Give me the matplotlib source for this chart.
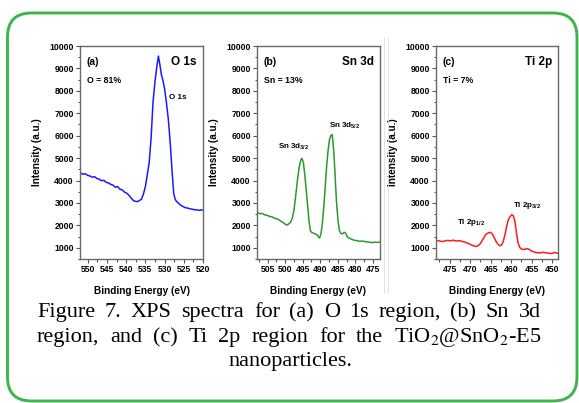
import matplotlib
matplotlib.use('Agg')
import matplotlib.pyplot as plt
from matplotlib.patches import FancyBboxPatch
from matplotlib.lines import Line2D
from matplotlib.transforms import IdentityTransform
from matplotlib.ticker import MultipleLocator

# O 1s spectrum (binding energy in eV, intensity in a.u.)
o_be = [551.8, 551.2, 550.6, 550.0, 549.4, 548.8, 548.2, 547.6, 547.0, 546.4,
        545.8, 545.2, 544.6, 544.0, 543.4, 542.8, 542.2, 541.6, 541.0, 540.4,
        539.8, 539.2, 538.6, 538.0, 537.5, 537.0, 536.5, 536.0, 535.5, 535.0,
        534.5, 534.0, 533.5, 533.0, 532.5, 532.0, 531.6, 531.2, 530.8, 530.4,
        530.0, 529.5, 529.0, 528.5, 528.0, 527.6, 527.2, 526.8, 526.3, 525.8,
        525.2, 524.6, 524.0, 523.4, 522.8, 522.2, 521.6, 521.0, 520.4, 520.0]
o_int = [4330, 4280, 4300, 4230, 4200, 4150, 4170, 4090, 4060, 3990,
         4010, 3920, 3890, 3830, 3790, 3700, 3730, 3610, 3580, 3480,
         3430, 3330, 3200, 3090, 3070, 3060, 3110, 3170, 3400, 3720,
         4250, 4800, 5900, 7500, 8400, 9100, 9550, 9150, 8700, 8450,
         8100, 7450, 6700, 5600, 4300, 3400, 3150, 3050, 2980, 2900,
         2840, 2790, 2770, 2740, 2720, 2700, 2690, 2670, 2690, 2680]

# Sn 3d spectrum
sn_be = [507.9, 507.2, 506.5, 505.8, 505.1, 504.4, 503.7, 503.0, 502.3, 501.6,
         501.0, 500.5, 500.0, 499.5, 499.0, 498.5, 498.0, 497.5, 497.0, 496.5,
         496.0, 495.5, 495.2, 494.8, 494.4, 494.0, 493.6, 493.2, 492.8, 492.4,
         492.0, 491.5, 491.0, 490.5, 490.2, 489.8, 489.4, 489.0, 488.6, 488.2,
         487.8, 487.4, 487.0, 486.6, 486.2, 485.8, 485.4, 485.0, 484.6, 484.2,
         483.7, 483.2, 482.8, 482.3, 481.6, 480.9, 480.2, 479.5, 478.8, 478.1,
         477.4, 476.7, 476.0, 475.3, 474.6, 473.9, 473.2]
sn_int = [2570, 2520, 2530, 2470, 2450, 2400, 2380, 2320, 2290, 2230,
          2170, 2120, 2060, 2010, 2060, 2130, 2300, 2650, 3300, 4000,
          4600, 4930, 4990, 4800, 4250, 3600, 2900, 2200, 1760, 1680,
          1660, 1620, 1590, 1480, 1440, 1620, 2100, 2800, 3700, 4600,
          5300, 5800, 6000, 6050, 5400, 4300, 3100, 2300, 1800, 1650,
          1620, 1690, 1660, 1480, 1420, 1370, 1330, 1320, 1290, 1300,
          1280, 1260, 1250, 1230, 1250, 1240, 1250]

# Ti 2p spectrum
ti_be = [478.3, 477.6, 476.9, 476.2, 475.5, 474.8, 474.1, 473.4, 472.7, 472.0,
         471.4, 470.8, 470.2, 469.6, 469.0, 468.5, 468.0, 467.5, 467.0, 466.5,
         466.0, 465.5, 465.1, 464.7, 464.2, 463.7, 463.2, 462.7, 462.3, 461.9,
         461.5, 461.1, 460.7, 460.3, 459.9, 459.5, 459.1, 458.7, 458.3, 457.9,
         457.4, 456.9, 456.3, 455.7, 455.1, 454.4, 453.7, 453.0, 452.3, 451.6,
         450.9, 450.2, 449.5, 448.7]
ti_int = [1330, 1310, 1280, 1300, 1330, 1310, 1340, 1300, 1320, 1290,
          1260, 1220, 1170, 1120, 1080, 1060, 1100, 1190, 1340, 1500,
          1620, 1670, 1690, 1640, 1480, 1290, 1150, 1090, 1130, 1300,
          1600, 1950, 2250, 2380, 2470, 2440, 2200, 1650, 1200, 1010,
          940, 920, 960, 940, 860, 810, 780, 770, 800, 780,
          760, 740, 790, 760]

W, H = 579, 403
plt.rcParams['font.family'] = 'Liberation Sans'
plt.rcParams['mathtext.fontset'] = 'custom'
plt.rcParams['mathtext.rm'] = 'Liberation Sans:bold'
plt.rcParams['mathtext.bf'] = 'Liberation Sans:bold'
plt.rcParams['mathtext.default'] = 'rm'
fig = plt.figure(figsize=(W / 100, H / 100), dpi=100)

panels = [
    dict(rect=[80, 203], be=o_be, y=o_int, color='#1a1aff', xlim=(552, 520),
         tag='(a)', title='O 1s', frac='O = 81%'),
    dict(rect=[257, 380], be=sn_be, y=sn_int, color='#2a9a2a', xlim=(508, 473),
         tag='(b)', title='Sn 3d', frac='Sn = 13%'),
    dict(rect=[436, 558], be=ti_be, y=ti_int, color='#ff1a1a', xlim=(478.3, 448.6),
         tag='(c)', title='Ti 2p', frac='Ti = 7%'),
]

top, bottom = 46, 259
axes = []
for p in panels:
    l, r = p['rect']
    ax = fig.add_axes([l / W, (H - bottom) / H, (r - l) / W, (bottom - top) / H])
    ax.plot(p['be'], p['y'], color=p['color'], lw=1.1)
    ax.set_xlim(*p['xlim'])
    ax.set_ylim(500, 10000)
    ax.xaxis.set_major_locator(MultipleLocator(5))
    ax.xaxis.set_minor_locator(MultipleLocator(2.5))
    ax.yaxis.set_major_locator(MultipleLocator(1000))
    ax.yaxis.set_minor_locator(MultipleLocator(500))
    ax.set_yticks(range(1000, 10001, 1000))
    ax.tick_params(which='both', direction='out', color='#555555', width=0.8)
    ax.tick_params(which='major', length=3, labelsize=6.2, pad=1.5)
    ax.tick_params(which='minor', length=1.8)
    for lab in ax.get_xticklabels() + ax.get_yticklabels():
        lab.set_fontweight('bold')
    for s in ax.spines.values():
        s.set_color('#6a6a6a')
        s.set_linewidth(1.0)
    ax.set_xlabel('Binding Energy (eV)', fontsize=7.2, fontweight='bold')
    ax.set_ylabel('Intensity (a.u.)', fontsize=7.2, fontweight='bold')
    ax.xaxis.set_label_coords(0.5, -0.127)
    ax.yaxis.set_label_coords(-38 / (r - l), 0.5)
    ax.text(0.05, 0.925, p['tag'], transform=ax.transAxes, fontsize=7.5,
            fontweight='bold', va='center', ha='left')
    ax.text(0.95, 0.925, p['title'], transform=ax.transAxes, fontsize=8.5,
            fontweight='bold', va='center', ha='right')
    ax.text(0.06, 0.84, p['frac'], transform=ax.transAxes, fontsize=6.3,
            fontweight='bold', va='center', ha='left')
    axes.append(ax)

axes[0].text(528.8, 7700, 'O 1s', fontsize=5.8, fontweight='bold', va='center', ha='left')
axes[1].text(497.5, 5500, r'Sn 3d$_{3/2}$', fontsize=5.8, fontweight='bold', va='center', ha='center')
axes[1].text(483.0, 6450, r'Sn 3d$_{5/2}$', fontsize=5.8, fontweight='bold', va='center', ha='center')
axes[2].text(469.8, 2150, r'Ti 2p$_{1/2}$', fontsize=5.8, fontweight='bold', va='center', ha='center')
axes[2].text(456.0, 2900, r'Ti 2p$_{3/2}$', fontsize=5.8, fontweight='bold', va='center', ha='center')

# thin separator between panels (b) and (c)
for xs in (384, 388):
    fig.add_artist(Line2D([xs, xs], [H - 293, H - 38], color='#dddddd', lw=0.6,
                          transform=IdentityTransform()))

# rounded green frame
frame = FancyBboxPatch((7.5, 2), 569.5, 388, boxstyle='round,pad=0,rounding_size=24',
                       fill=False, ec='#3db54a', lw=2.1, transform=IdentityTransform())
fig.add_artist(frame)

# justified caption
cap_lines = [
    'Figure 7.  XPS spectra for (a) O 1s region, (b) Sn 3d',
    r'region, and (c) Ti 2p region for the TiO$_2$@SnO$_2$-E5',
]
cap_fs = 16
renderer = fig.canvas.get_renderer()
for line, yb in zip(cap_lines, [317, 342]):
    words = line.split()
    texts = [fig.text(0, 1 - yb / H, w, fontsize=cap_fs, family='Liberation Serif',
                      math_fontfamily='stix', va='baseline', ha='left') for w in words]
    widths = [t.get_window_extent(renderer).width for t in texts]
    gap = (541 - 37 - sum(widths)) / (len(words) - 1)
    x = 37
    for t, w in zip(texts, widths):
        t.set_x(x / W)
        x += w + gap
fig.text(290 / W, 1 - 366 / H, 'nanoparticles.', fontsize=cap_fs,
         family='Liberation Serif', va='baseline', ha='center')

fig.savefig('out.png', dpi=100)
